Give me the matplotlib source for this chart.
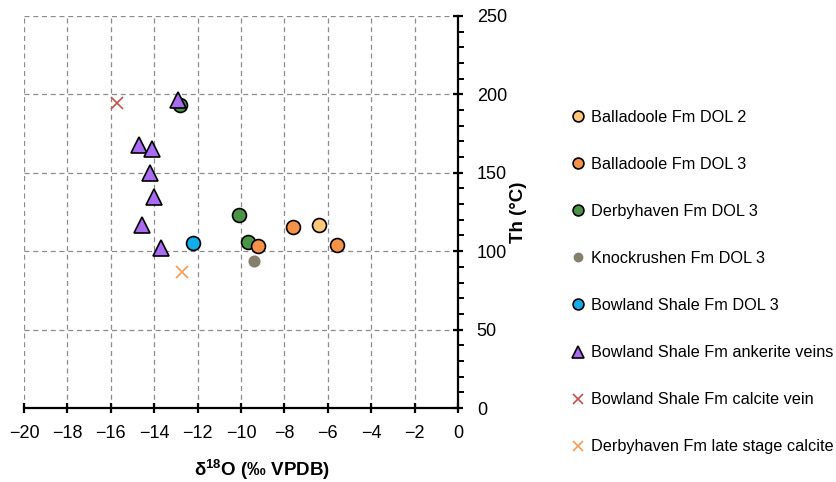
import matplotlib

matplotlib.use("Agg")
import matplotlib.pyplot as plt
from matplotlib.ticker import MultipleLocator

plt.rcParams["font.family"] = ["Liberation Sans", "DejaVu Sans"]
plt.rcParams["mathtext.fontset"] = "custom"
plt.rcParams["mathtext.rm"] = "Liberation Sans"
plt.rcParams["mathtext.bf"] = "Liberation Sans:bold"

# d18O (x) and Th (y) per group
ball_dol2_x = [-6.4]
ball_dol2_y = [117]
ball_dol3_x = [-7.6, -9.2, -5.6]
ball_dol3_y = [115.5, 103, 104]
derby_dol3_x = [-12.8, -10.1, -9.7]
derby_dol3_y = [193.5, 123, 106]
knock_dol3_x = [-9.4]
knock_dol3_y = [94]
bowl_dol3_x = [-12.2]
bowl_dol3_y = [105.5]
ank_x = [-12.9, -14.7, -14.1, -14.2, -14.0, -14.55, -13.7]
ank_y = [196.5, 168, 165, 150, 134.5, 117, 102]
calc_vein_x = [-15.7]
calc_vein_y = [194.5]
late_calc_x = [-12.7]
late_calc_y = [87]

series = [
    ("Balladoole Fm DOL 2", ball_dol2_x, ball_dol2_y, "o", "#FFC77A", "black", 10, 4),
    ("Balladoole Fm DOL 3", ball_dol3_x, ball_dol3_y, "o", "#F5924A", "black", 10, 5),
    ("Derbyhaven Fm DOL 3", derby_dol3_x, derby_dol3_y, "o", "#4A9445", "black", 10, 3),
    ("Knockrushen Fm DOL 3", knock_dol3_x, knock_dol3_y, "o", "#85806C", "#85806C", 7.5, 3),
    ("Bowland Shale Fm DOL 3", bowl_dol3_x, bowl_dol3_y, "o", "#12AEEB", "black", 10, 3),
    ("Bowland Shale Fm ankerite veins", ank_x, ank_y, "^", "#A86BF2", "black", 11, 6),
    ("Bowland Shale Fm calcite vein", calc_vein_x, calc_vein_y, "x", "#C9504C", "#C9504C", 9, 3),
    ("Derbyhaven Fm late stage calcite", late_calc_x, late_calc_y, "x", "#F79A52", "#F79A52", 9, 3),
]

fig = plt.figure(figsize=(8.36, 4.82), dpi=100)
ax = fig.add_axes([0.0287, 0.1535, 0.5192, 0.8135])

for label, xs, ys, m, fc, ec, ms, z in series:
    if m == "x":
        ax.plot(xs, ys, linestyle="none", marker=m, markersize=ms, color=fc,
                markeredgewidth=1.2, label=label, zorder=z)
    else:
        ax.plot(xs, ys, linestyle="none", marker=m, markersize=ms,
                markerfacecolor=fc, markeredgecolor=ec, markeredgewidth=1.2,
                label=label, zorder=z)

ax.set_xlim(-20, 0)
ax.set_ylim(0, 250)
ax.xaxis.set_major_locator(MultipleLocator(2))
ax.yaxis.set_major_locator(MultipleLocator(50))
ax.yaxis.set_minor_locator(MultipleLocator(10))
ax.yaxis.tick_right()
ax.yaxis.set_label_position("right")

for s in ["top", "left"]:
    ax.spines[s].set_visible(False)
for s in ["bottom", "right"]:
    ax.spines[s].set_linewidth(1.6)
    ax.spines[s].set_zorder(7)

ax.grid(True, which="major", linestyle=(0, (4, 3)), color="#8C8C8C", linewidth=0.9)
ax.set_axisbelow(True)
ax.tick_params(axis="x", which="major", direction="inout", length=7, width=1.6,
               labelsize=13, pad=9)
ax.tick_params(axis="y", which="major", direction="inout", length=7, width=1.6,
               labelsize=13, pad=10)
ax.tick_params(axis="y", which="minor", direction="out", length=4, width=1.4)

ax.set_xlabel(r"δ$^{\mathbf{18}}$O (‰ VPDB)", fontsize=13.5, fontweight="bold")
ax.xaxis.set_label_coords(0.548, -0.125)
ax.set_ylabel("Th (°C)", fontsize=13.5, fontweight="bold")
ax.yaxis.set_label_coords(1.12, 0.5)

handles, labels = ax.get_legend_handles_labels()
leg = fig.legend(handles, labels, loc="upper left", bbox_to_anchor=(0.675, 0.785),
                 frameon=False, fontsize=11.7, labelspacing=1.97, handletextpad=0.35,
                 handlelength=0.9, markerscale=0.78, borderaxespad=0)

fig.savefig("out.png", dpi=100)
